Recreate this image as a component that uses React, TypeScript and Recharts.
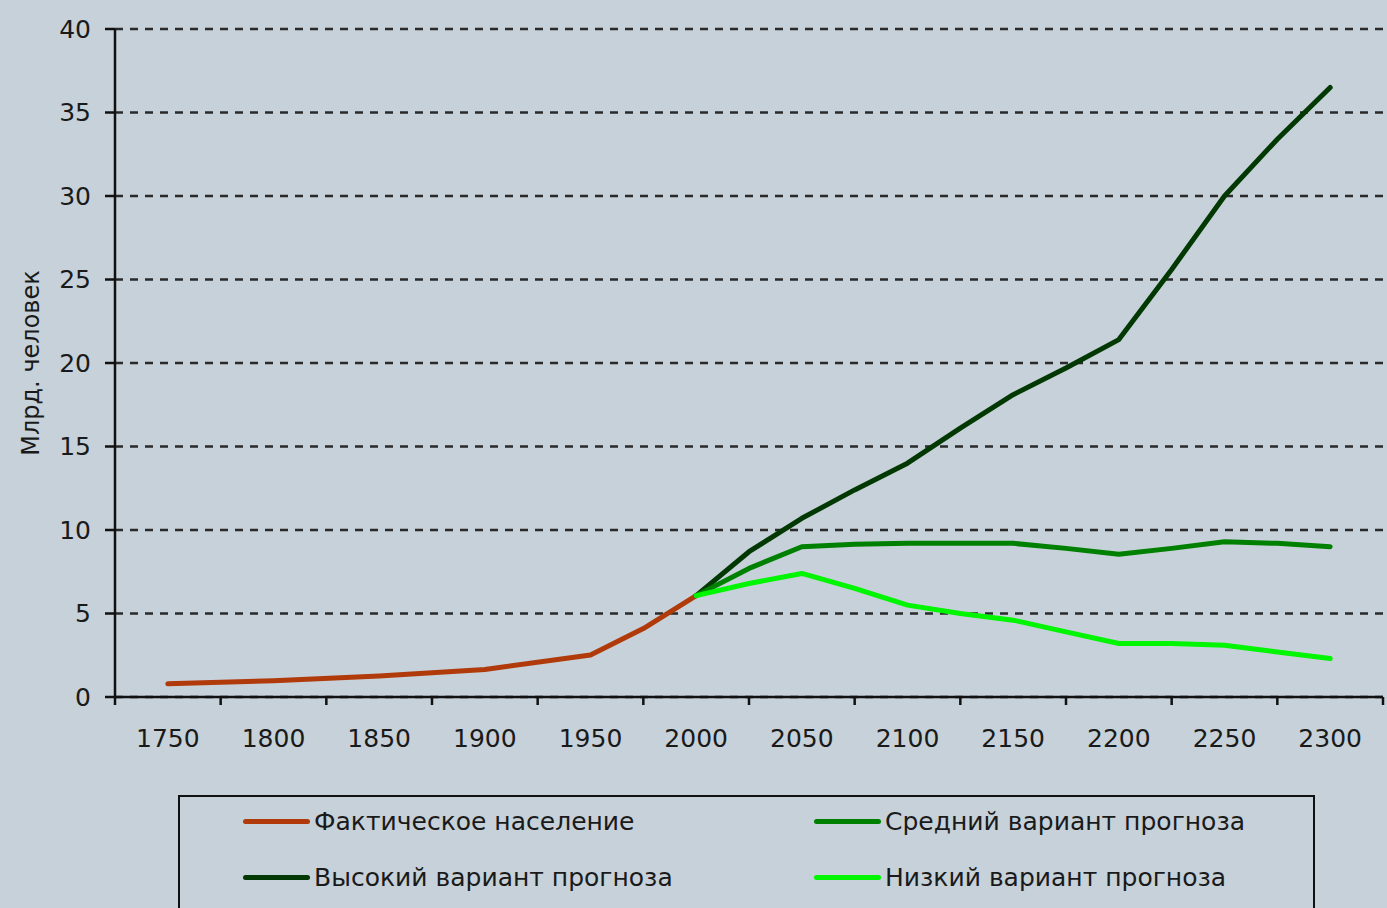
import { LineChart, Line, XAxis, YAxis, CartesianGrid } from "recharts";

// years where the curves have readable break points
const years = [1750, 1800, 1850, 1900, 1950, 1975, 2000, 2025, 2050, 2075, 2100, 2125, 2150, 2175, 2200, 2225, 2250, 2275, 2300];

const actual = [0.79, 0.98, 1.26, 1.65, 2.52, 4.1, 6.07, null, null, null, null, null, null, null, null, null, null, null, null];
const high = [null, null, null, null, null, null, 6.07, 8.7, 10.7, 12.4, 14.0, 16.1, 18.1, 19.7, 21.4, 25.6, 30.0, 33.4, 36.5];
const medium = [null, null, null, null, null, null, 6.07, 7.7, 9.0, 9.15, 9.2, 9.2, 9.2, 8.9, 8.55, 8.9, 9.3, 9.2, 9.0];
const low = [null, null, null, null, null, null, 6.07, 6.8, 7.4, 6.5, 5.5, 5.0, 4.6, 3.9, 3.2, 3.2, 3.1, 2.7, 2.3];

const xTicks = [1725, 1750, 1775, 1800, 1825, 1850, 1875, 1900, 1925, 1950, 1975, 2000, 2025, 2050, 2075, 2100, 2125, 2150, 2175, 2200, 2225, 2250, 2275, 2300, 2325];
const yTicks = [0, 5, 10, 15, 20, 25, 30, 35, 40];

const series = [
  { key: "actual", name: "Фактическое население", color: "#b03a0a" },
  { key: "high", name: "Высокий вариант прогноза", color: "#023802" },
  { key: "medium", name: "Средний вариант прогноза", color: "#008000" },
  { key: "low", name: "Низкий вариант прогноза", color: "#00f500" },
];

const data = years.map((year, i) => ({
  year,
  actual: actual[i],
  high: high[i],
  medium: medium[i],
  low: low[i],
}));

const FONT = "'DejaVu Sans', sans-serif";
const BG = "#c6d1d9";

const XTick = (props: any) => {
  const { x, y, payload } = props;
  const v = payload.value;
  if ((v - 1725) % 50 === 0) {
    return <line x1={x} y1={y} x2={x} y2={y + 8} stroke="#111" strokeWidth={2.5} />;
  }
  return (
    <text x={x} y={y + 50} textAnchor="middle" fontSize={25} fill="#1a1a1a" fontFamily={FONT}>
      {v}
    </text>
  );
};

const YLabel = (props: any) => {
  const vb = props.viewBox;
  const cx = 31;
  const cy = vb.y + vb.height / 2;
  return (
    <text
      x={cx}
      y={cy}
      transform={`rotate(-90 ${cx} ${cy})`}
      textAnchor="middle"
      dominantBaseline="central"
      fontSize={24}
      fill="#1a1a1a"
      fontFamily={FONT}
    >
      Млрд. человек
    </text>
  );
};

export default function App() {
  const legendRows = [
    [series[0], series[2]],
    [series[1], series[3]],
  ];
  return (
    <div style={{ position: "absolute", left: 0, top: 0, width: 1387, height: 908, background: BG, overflow: "hidden", fontFamily: FONT }}>
      <LineChart width={1387} height={908} data={data} margin={{ top: 29, right: 4, bottom: 151, left: 0 }}>
        <CartesianGrid horizontal vertical={false} stroke="#2a2a2a" strokeWidth={2.5} strokeDasharray="8 7" />
        <XAxis
          dataKey="year"
          type="number"
          domain={[1725, 2325]}
          ticks={xTicks}
          interval={0}
          tickLine={false}
          tickSize={0}
          tickMargin={0}
          height={60}
          axisLine={{ stroke: "#111", strokeWidth: 2.5 }}
          tick={<XTick />}
        />
        <YAxis
          domain={[0, 40]}
          ticks={yTicks}
          interval={0}
          width={115}
          tickSize={10}
          tickMargin={14}
          axisLine={{ stroke: "#111", strokeWidth: 2.5 }}
          tickLine={{ stroke: "#111", strokeWidth: 2.5 }}
          tick={{ fontSize: 25, fill: "#1a1a1a", fontFamily: FONT }}
          label={<YLabel />}
        />
        {series.map((s) => (
          <Line
            key={s.key}
            type="linear"
            dataKey={s.key}
            name={s.name}
            stroke={s.color}
            strokeWidth={5}
            strokeLinejoin="round"
            strokeLinecap="round"
            dot={false}
            activeDot={false}
            isAnimationActive={false}
          />
        ))}
      </LineChart>
      <div
        style={{
          position: "absolute",
          left: 178,
          top: 795,
          width: 1137,
          height: 124,
          border: "2px solid #111",
          boxSizing: "border-box",
        }}
      >
        {legendRows.map((row, r) =>
          row.map((s, c) => (
            <div
              key={s.key}
              style={{
                position: "absolute",
                left: c === 0 ? 63 : 634,
                top: r === 0 ? 6 : 62,
                height: 36,
                display: "flex",
                alignItems: "center",
                whiteSpace: "nowrap",
              }}
            >
              <div style={{ width: 67, height: 5, borderRadius: 3, background: s.color, marginRight: 4 }} />
              <span style={{ fontSize: 25, color: "#1a1a1a" }}>{s.name}</span>
            </div>
          ))
        )}
      </div>
    </div>
  );
}
